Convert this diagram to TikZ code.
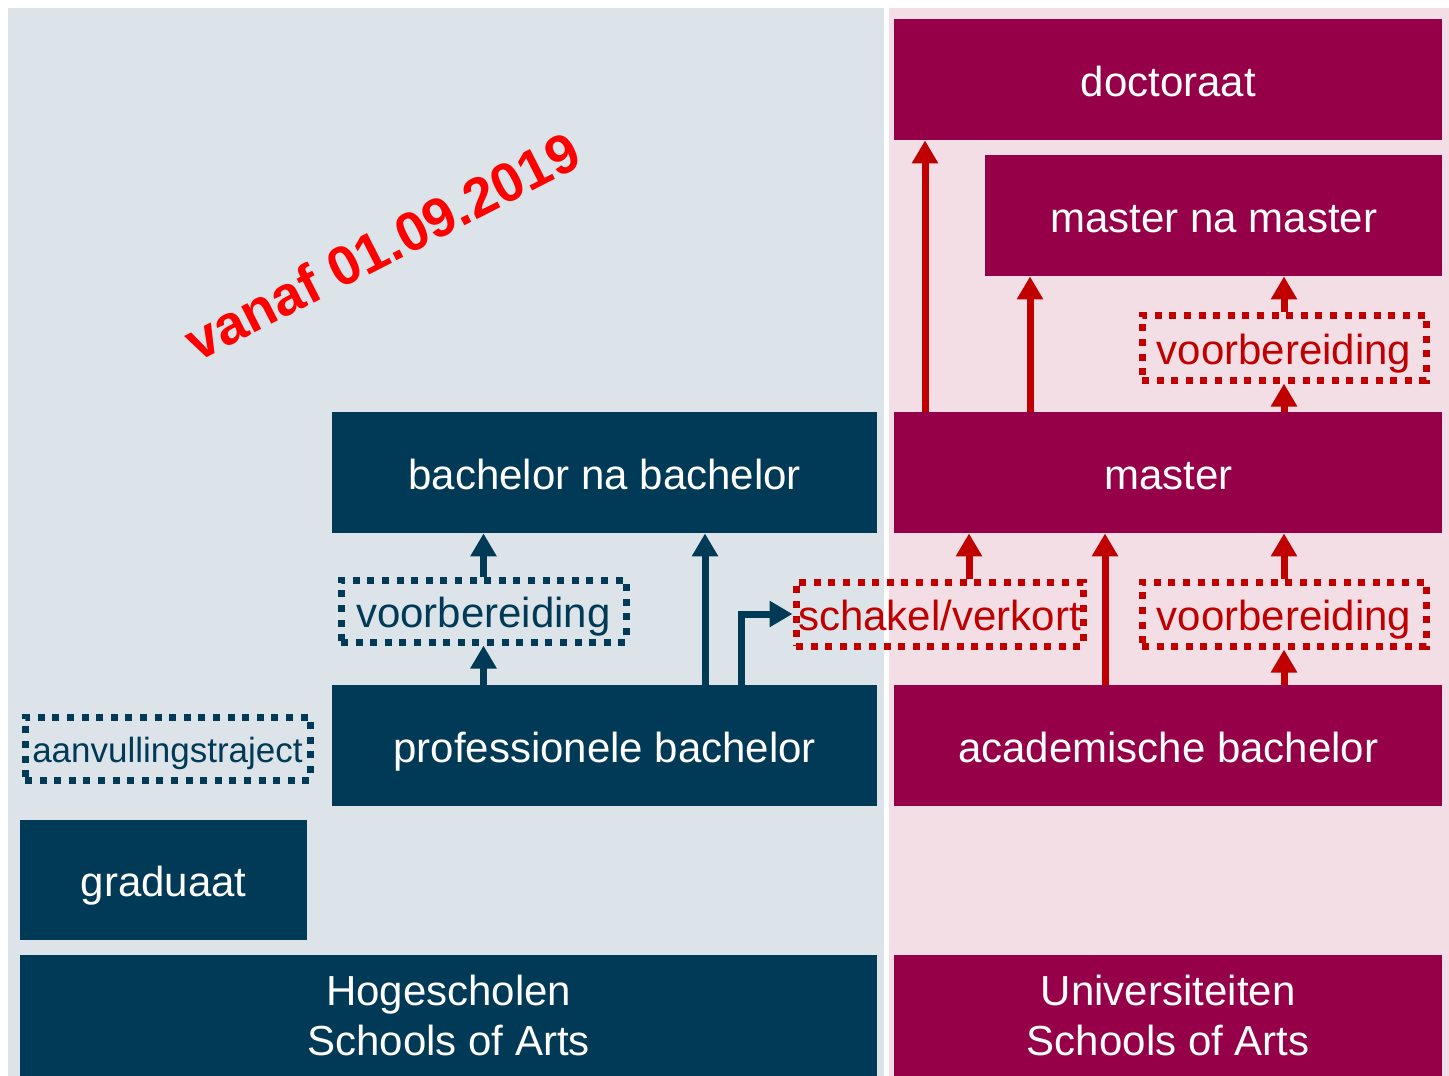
\documentclass[tikz,border=0pt]{standalone}
\usepackage{fontspec}
\setmainfont{Liberation Sans}
\usetikzlibrary{arrows.meta,calc}
\definecolor{hblue}{HTML}{003A57}
\definecolor{umag}{HTML}{960048}
\definecolor{ared}{HTML}{C00000}
\definecolor{bgblue}{HTML}{DDE4E9}
\definecolor{bgpink}{HTML}{F4DEE6}
\tikzset{
  x=1pt, y=-1pt,
  blk/.style={inner sep=0pt, anchor=north west, text=white, align=center,
    font=\fontsize{42}{50}\selectfont},
  one/.style={text height=33pt, text depth=0pt},
  hbox/.style={blk, fill=hblue},
  ubox/.style={blk, fill=umag},
  dotbox/.style={inner sep=0pt, anchor=north west, line width=7pt,
    dash pattern=on 7pt off 7.6pt, font=\fontsize{42}{50}\selectfont, one},
  hdot/.style={dotbox, draw=hblue, text=hblue},
  udot/.style={dotbox, draw=ared, text=ared},
  barr/.style={draw=hblue, line width=7pt, -{Triangle[length=23pt,width=25pt]}},
  rarr/.style={draw=ared, line width=7pt, -{Triangle[length=23pt,width=25pt]}},
}
\begin{document}
\begin{tikzpicture}
\useasboundingbox (0,0) rectangle (1449,1076);
\fill[white] (0,0) rectangle (1449,1076);
\fill[bgblue] (8,8) rectangle (884,1076);
\fill[bgpink] (889,8) rectangle (1449,1076);

% Hogescholen side
\node[hbox, one, minimum width=545pt, minimum height=121pt] (bnb) at (332,412) {bachelor na bachelor};
\node[hbox, one, minimum width=545pt, minimum height=121pt] (pb) at (332,685) {professionele bachelor};
\node[hbox, one, minimum width=287pt, minimum height=120pt] (gr) at (20,820) {graduaat};
\node[hbox, minimum width=857pt, minimum height=121pt] (hs) at (20,955) {Hogescholen\\Schools of Arts};
\node[hdot, minimum width=285pt, minimum height=63pt, font=\fontsize{35}{42}\selectfont, text height=27pt] (avt) at (21.5,713.5) {aanvullingstraject};
\node[hdot, minimum width=285pt, minimum height=62pt] (vb) at (337.5,576.5) {voorbereiding};

% Universiteiten side
\node[ubox, one, minimum width=548pt, minimum height=121pt] (doc) at (894,19) {doctoraat};
\node[ubox, one, minimum width=457pt, minimum height=121pt] (mnm) at (985,155) {master na master};
\node[ubox, one, minimum width=548pt, minimum height=121pt] (ma) at (894,412) {master};
\node[ubox, one, minimum width=548pt, minimum height=121pt] (ab) at (894,685) {academische bachelor};
\node[ubox, minimum width=548pt, minimum height=121pt] (us) at (894,955) {Universiteiten\\Schools of Arts};
\node[udot, minimum width=284pt, minimum height=65pt] (vr1) at (1138.5,311.5) {voorbereiding};
\node[udot, minimum width=287pt, minimum height=64pt] (sv) at (792.5,578.5) {schakel/verkort};
\node[udot, minimum width=284pt, minimum height=64pt] (vr2) at (1138.5,578.5) {voorbereiding};

% date stamp
\node[rotate=27, text=red, inner sep=0pt, font=\bfseries\fontsize{55}{60}\selectfont] (van) at (382,246) {vanaf 01.09.2019};

% helper x positions
\coordinate (x705) at (705,0);
\coordinate (x741) at (741,0);
\coordinate (x925) at (925,0);
\coordinate (x1030) at (1030,0);
\coordinate (x969) at (969,0);
\coordinate (x1105) at (1105,0);

% blue arrows
\draw[barr] (vb.north) -- (bnb.south -| vb.north);
\draw[barr] (pb.north -| vb.south) -- (vb.south);
\draw[barr] (pb.north -| x705) -- (bnb.south -| x705);
\draw[barr] (pb.north -| x741) |- (sv.west);

% red arrows
\draw[rarr] (ma.north -| x925) -- (doc.south -| x925);
\draw[rarr] (ma.north -| x1030) -- (mnm.south -| x1030);
\draw[rarr] (vr1.north) -- (mnm.south -| vr1.north);
\draw[rarr] (ma.north -| vr1.south) -- (vr1.south);
\draw[rarr] (sv.north -| x969) -- (ma.south -| x969);
\draw[rarr] (ab.north -| x1105) -- (ma.south -| x1105);
\draw[rarr] (vr2.north) -- (ma.south -| vr2.north);
\draw[rarr] (ab.north -| vr2.south) -- (vr2.south);
\end{tikzpicture}
\end{document}
